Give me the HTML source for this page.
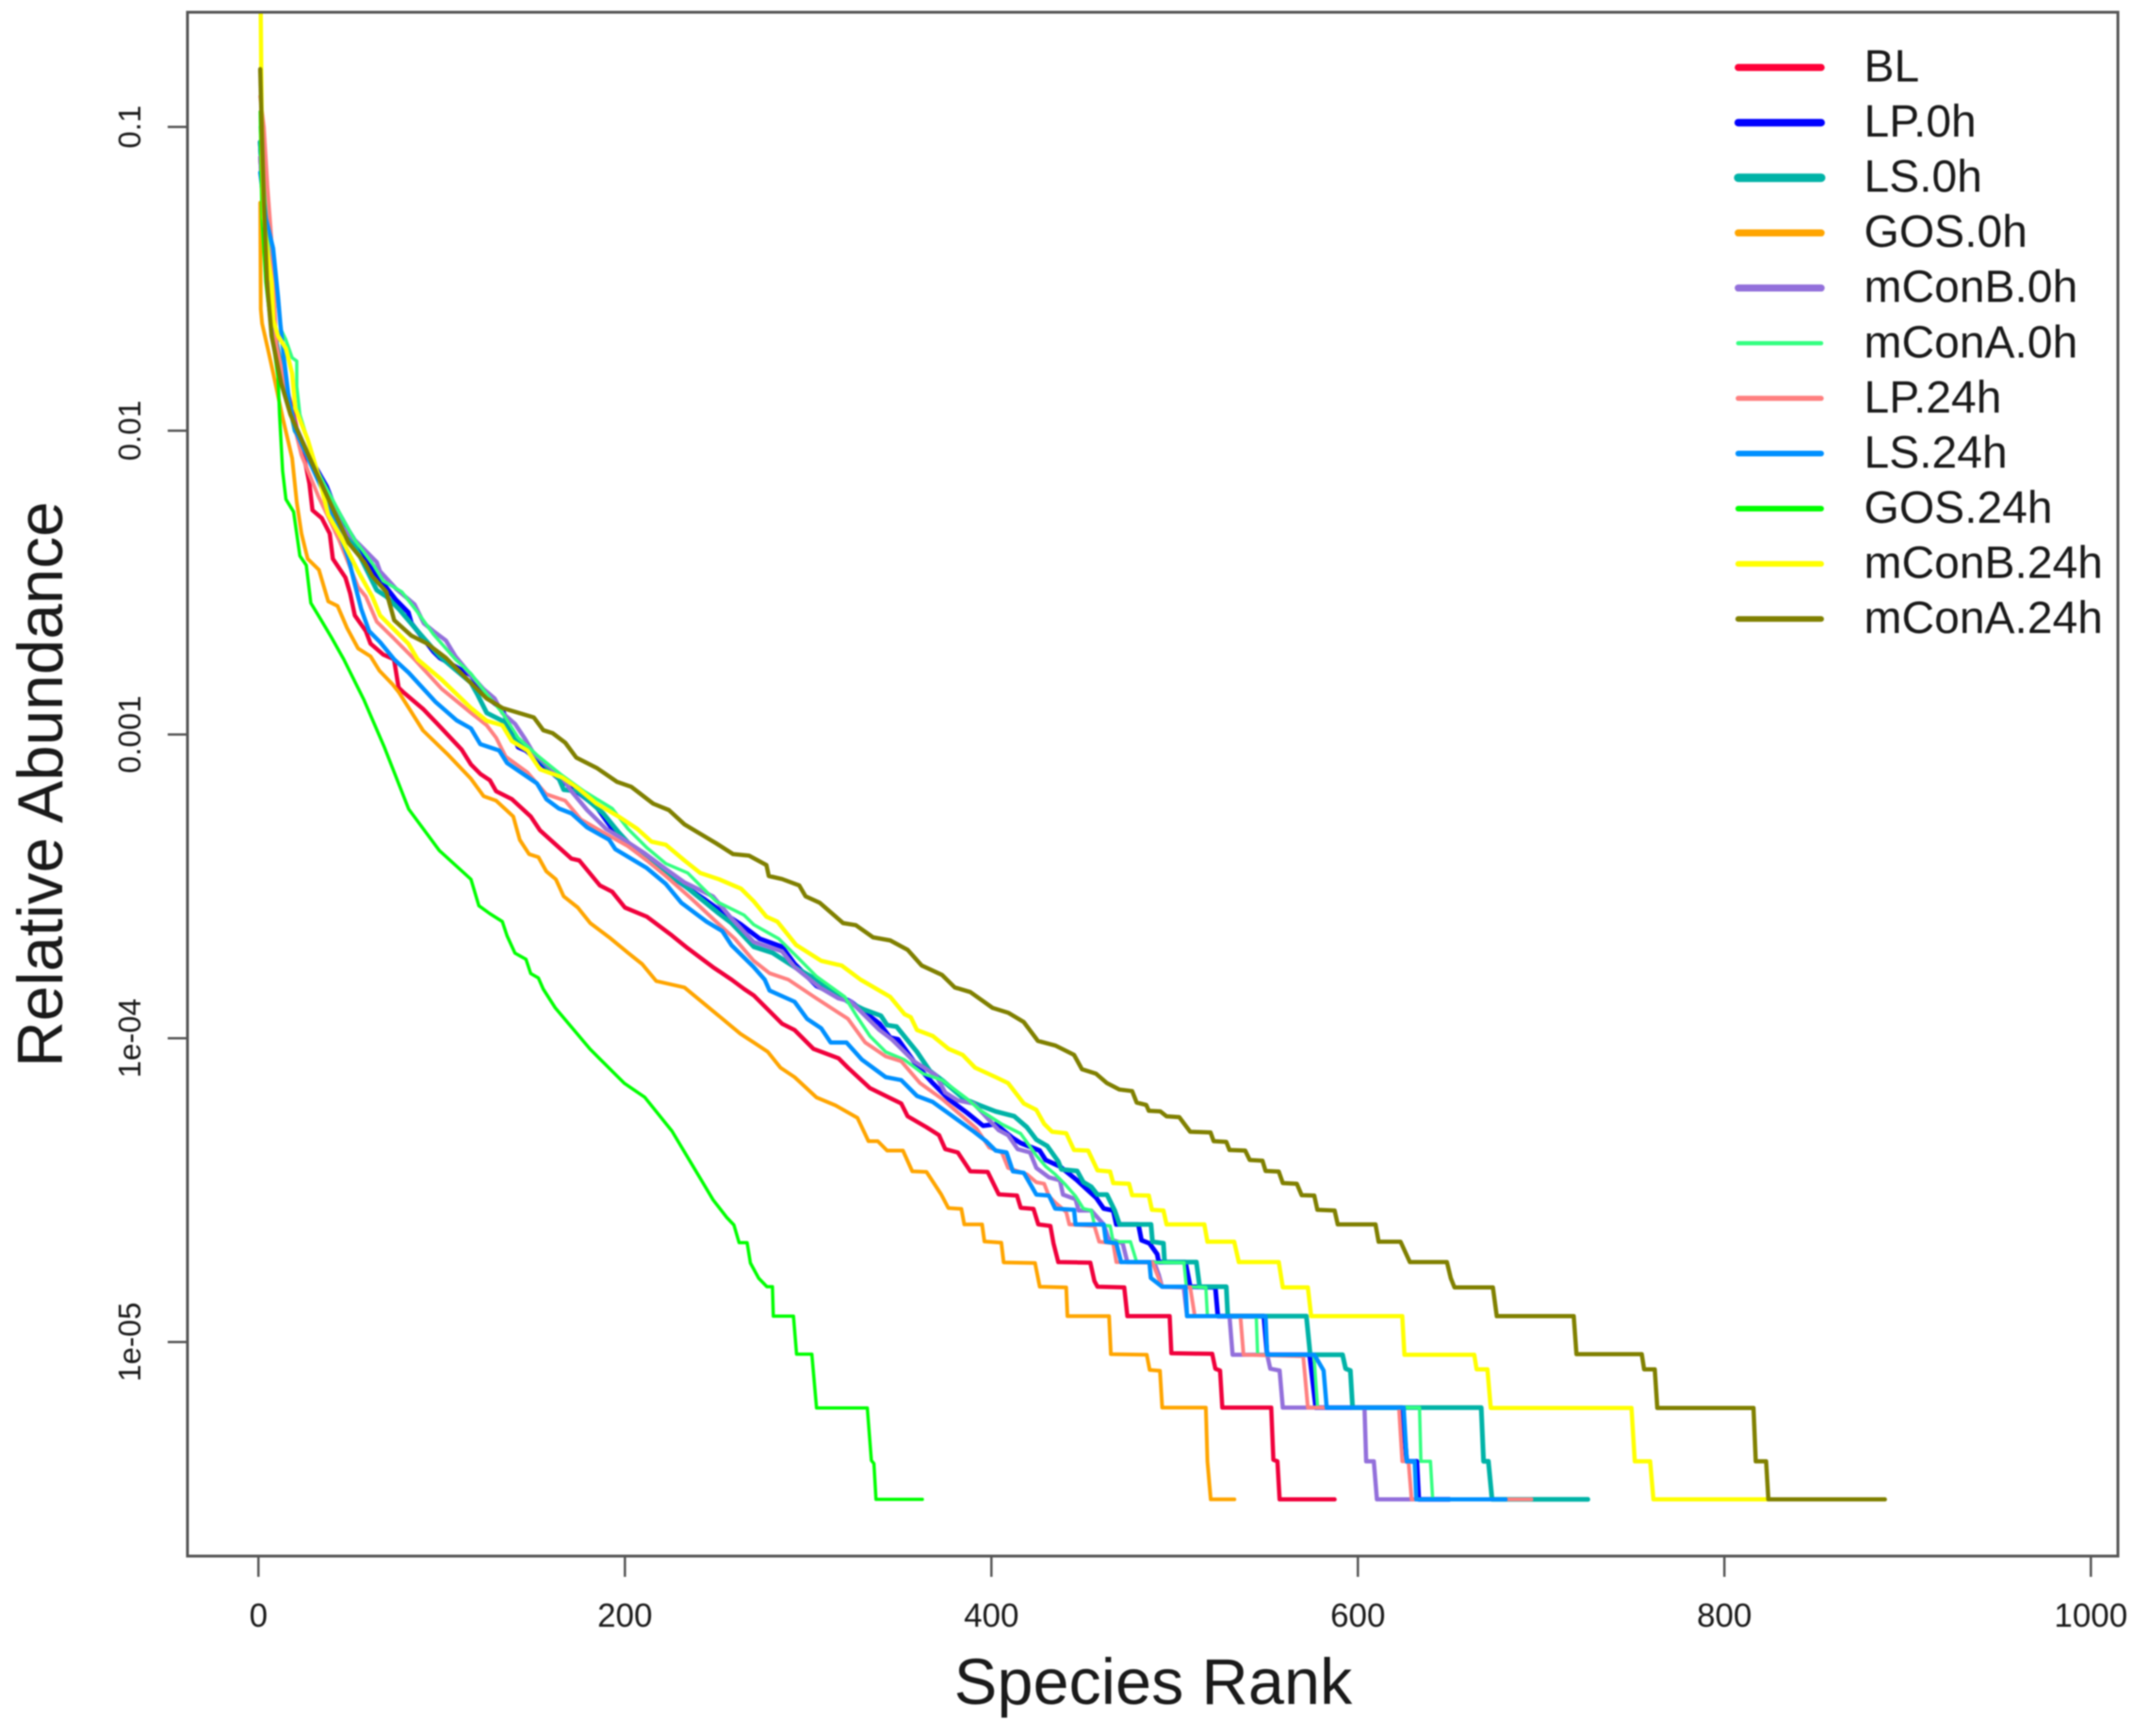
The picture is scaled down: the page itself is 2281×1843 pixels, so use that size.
<!DOCTYPE html>
<html lang="en">
<head>
<meta charset="utf-8">
<title>Species rank abundance curves</title>
<style>
html,body{margin:0;padding:0;background:#fff;width:2281px;height:1843px;overflow:hidden}
svg{display:block;position:absolute;left:0;top:0;filter:blur(0.7px)}
text{font-family:"Liberation Sans",sans-serif;fill:#1a1a1a}
</style>
</head>
<body>
<svg id="chart" xmlns="http://www.w3.org/2000/svg" width="2281" height="1843" viewBox="0 0 2281 1843">
  <defs><clipPath id="plot-clip"><rect x="199" y="13" width="2049" height="1639"/></clipPath></defs>
  <rect x="0" y="0" width="2281" height="1843" fill="#fff"/>
  <g id="curves" clip-path="url(#plot-clip)"></g>
  <rect x="199" y="13" width="2049" height="1639" fill="none" stroke="#555" stroke-width="3"/>
  <g id="x-axis"></g>
  <g id="y-axis"></g>
  <text x="1232" y="1809" font-size="68.5" text-anchor="middle" transform="translate(-8,0)">Species Rank</text>
  <text transform="translate(66,832.6) rotate(-90)" font-size="67.5" text-anchor="middle">Relative Abundance</text>
  <g font-size="48">
    <g><line x1="1845" x2="1933" y1="71.6" y2="71.6" stroke="#ff0038" stroke-width="7.5" stroke-linecap="round"/><text x="1978.5" y="86.5">BL</text></g>
    <g><line x1="1845" x2="1933" y1="130.2" y2="130.2" stroke="#0000ff" stroke-width="8" stroke-linecap="round"/><text x="1978.5" y="145.1">LP.0h</text></g>
    <g><line x1="1845" x2="1933" y1="188.7" y2="188.7" stroke="#00b3a7" stroke-width="9" stroke-linecap="round"/><text x="1978.5" y="203.6">LS.0h</text></g>
    <g><line x1="1845" x2="1933" y1="247.3" y2="247.3" stroke="#ffa500" stroke-width="7.5" stroke-linecap="round"/><text x="1978.5" y="262.2">GOS.0h</text></g>
    <g><line x1="1845" x2="1933" y1="305.8" y2="305.8" stroke="#9370db" stroke-width="7.5" stroke-linecap="round"/><text x="1978.5" y="320.7">mConB.0h</text></g>
    <g><line x1="1845" x2="1933" y1="364.4" y2="364.4" stroke="#33ff80" stroke-width="4.5" stroke-linecap="round"/><text x="1978.5" y="379.3">mConA.0h</text></g>
    <g><line x1="1845" x2="1933" y1="422.9" y2="422.9" stroke="#ff8080" stroke-width="5.5" stroke-linecap="round"/><text x="1978.5" y="437.8">LP.24h</text></g>
    <g><line x1="1845" x2="1933" y1="481.5" y2="481.5" stroke="#0090ff" stroke-width="6" stroke-linecap="round"/><text x="1978.5" y="496.4">LS.24h</text></g>
    <g><line x1="1845" x2="1933" y1="540" y2="540" stroke="#00ff00" stroke-width="6" stroke-linecap="round"/><text x="1978.5" y="554.9">GOS.24h</text></g>
    <g><line x1="1845" x2="1933" y1="598.6" y2="598.6" stroke="#ffff00" stroke-width="6" stroke-linecap="round"/><text x="1978.5" y="613.5">mConB.24h</text></g>
    <g><line x1="1845" x2="1933" y1="657.1" y2="657.1" stroke="#808000" stroke-width="6" stroke-linecap="round"/><text x="1978.5" y="672">mConA.24h</text></g>
  </g>
</svg>
<script>
// Tick values and labels
const xTickValues = [0, 200, 400, 600, 800, 1000];
const yTickLog10 = [-1, -2, -3, -4, -5];
const yTickLabels = ['0.1', '0.01', '0.001', '1e-04', '1e-05'];

// Each curve: [species rank, log10 relative abundance]
const curveBL = [[1,-1.1],[5,-1.45],[9,-1.709],[15,-1.85],[20,-1.97],[26.1,-2.122],[27.8,-2.174],[29.5,-2.262],[34.6,-2.288],[38.9,-2.339],[40.6,-2.422],[47.5,-2.484],[50.1,-2.536],[52.6,-2.608],[58.6,-2.66],[61.2,-2.701],[68.1,-2.737],[74,-2.753],[76.5,-2.846],[79.3,-2.862],[89.8,-2.916],[97.5,-2.964],[110.9,-3.05],[116,-3.099],[121.1,-3.13],[126.3,-3.151],[129.7,-3.187],[138.3,-3.213],[148.6,-3.27],[153.7,-3.316],[170.8,-3.409],[175.1,-3.415],[186.3,-3.497],[193.1,-3.518],[200,-3.57],[212,-3.6],[225.7,-3.662],[234.3,-3.704],[248,-3.766],[258.2,-3.807],[265.1,-3.838],[270.3,-3.859],[285.7,-3.952],[292.6,-3.973],[302.9,-4.035],[316.6,-4.066],[321.7,-4.097],[333.7,-4.164],[345.7,-4.2],[350.8,-4.215],[354.3,-4.257],[364.6,-4.293],[371.4,-4.319],[374.8,-4.365],[381.7,-4.376],[385.1,-4.407],[388.5,-4.438],[398,-4.44],[404,-4.514],[414,-4.518],[416,-4.558],[423,-4.562],[425.6,-4.613],[432.2,-4.618],[433.9,-4.675],[436.5,-4.737],[454,-4.739],[456.2,-4.799],[457.9,-4.818],[472.5,-4.82],[474.2,-4.915],[497.3,-4.915],[498.2,-5.037],[520.5,-5.039],[522.2,-5.088],[524.8,-5.094],[526,-5.216],[552.7,-5.216],[553.9,-5.388],[556.1,-5.393],[557.3,-5.518],[587.3,-5.518]];
const curveLP0h = [[1,-1.05],[5,-1.5],[10,-1.72],[20.1,-1.998],[22.6,-2.029],[37.2,-2.184],[40.6,-2.236],[49.2,-2.329],[62.9,-2.463],[75,-2.557],[81.8,-2.598],[83.5,-2.634],[95.5,-2.727],[98.9,-2.748],[116,-2.805],[124.6,-2.877],[133.1,-2.918],[141.7,-3.042],[146,-3.053],[164,-3.146],[172.6,-3.182],[184.6,-3.239],[193.1,-3.311],[203.4,-3.368],[218.8,-3.44],[236,-3.513],[243.7,-3.544],[253.1,-3.585],[263.4,-3.626],[273.7,-3.673],[285.7,-3.699],[292.6,-3.755],[304.6,-3.828],[323.4,-3.88],[338.9,-3.952],[344.8,-3.998],[349.1,-4.004],[359.4,-4.091],[368,-4.148],[376.6,-4.2],[386.8,-4.246],[395.4,-4.288],[402.3,-4.283],[411.7,-4.329],[416,-4.345],[426.3,-4.37],[429.6,-4.401],[437.4,-4.422],[446.8,-4.468],[457.1,-4.525],[461.3,-4.561],[466.5,-4.567],[468.2,-4.613],[480.2,-4.613],[481.9,-4.665],[486.2,-4.675],[490.5,-4.711],[491.3,-4.737],[505.9,-4.737],[508.5,-4.818],[522.2,-4.82],[523.6,-4.915],[548.7,-4.915],[550.5,-5.042],[573.6,-5.042],[577,-5.216],[624.2,-5.216],[626.7,-5.393],[632.2,-5.393],[633.2,-5.518],[650,-5.518]];
const curveLS0h = [[1,-1.05],[5,-1.5],[10,-1.72],[20,-2],[32,-2.14],[45.8,-2.298],[56.1,-2.422],[64.6,-2.525],[69.8,-2.546],[76.6,-2.587],[86.9,-2.66],[98.9,-2.743],[116,-2.83],[119.4,-2.867],[124.6,-2.929],[133.1,-2.955],[138.3,-3.006],[150,-3.06],[164,-3.146],[166.6,-3.182],[174.3,-3.187],[188,-3.259],[196.5,-3.322],[205.1,-3.378],[215.4,-3.425],[232.5,-3.497],[251.4,-3.59],[258.2,-3.621],[270.3,-3.699],[280.6,-3.719],[292.6,-3.766],[304.6,-3.807],[321.7,-3.88],[330.3,-3.905],[339.7,-3.926],[343.1,-3.957],[348.3,-3.962],[359.4,-4.045],[366.3,-4.107],[373.1,-4.138],[385.1,-4.2],[393.7,-4.221],[402.3,-4.241],[412.5,-4.257],[419.4,-4.293],[424.5,-4.334],[430.5,-4.355],[436.5,-4.406],[438.2,-4.432],[446.8,-4.437],[450.2,-4.474],[454.5,-4.489],[457.9,-4.515],[463.1,-4.515],[467.3,-4.567],[469.9,-4.613],[487.1,-4.613],[487.9,-4.67],[493.9,-4.675],[494.5,-4.737],[511.9,-4.737],[513.6,-4.818],[528.2,-4.818],[529,-4.915],[571.9,-4.915],[574,-5.042],[591.6,-5.042],[593.3,-5.088],[595.9,-5.094],[597.1,-5.216],[667.3,-5.216],[668.6,-5.393],[671.2,-5.393],[673.2,-5.518],[725.5,-5.518]];
const curveGOS0h = [[1,-1.25],[1.3,-1.6],[2,-1.647],[5.5,-1.74],[8.1,-1.812],[13.2,-1.957],[18.4,-2.091],[20.9,-2.236],[23.5,-2.339],[26.9,-2.422],[33,-2.458],[38.1,-2.562],[43.2,-2.577],[48.4,-2.65],[54.4,-2.717],[61.2,-2.743],[66,-2.79],[73.3,-2.836],[76.7,-2.862],[89.8,-2.987],[103,-3.064],[116,-3.146],[122.9,-3.203],[129.7,-3.218],[139.1,-3.27],[142.6,-3.347],[147.7,-3.394],[152.8,-3.404],[157.1,-3.451],[162.3,-3.477],[166.6,-3.533],[174.3,-3.57],[181.1,-3.621],[191.4,-3.668],[201.7,-3.719],[209.4,-3.756],[217.1,-3.812],[232.5,-3.833],[250,-3.92],[263,-3.985],[270.3,-4.014],[278,-4.045],[284.9,-4.097],[292.6,-4.128],[304.6,-4.195],[314.9,-4.221],[326.9,-4.262],[332.9,-4.339],[338,-4.339],[343.1,-4.37],[351.7,-4.37],[356.8,-4.438],[364.6,-4.44],[372.6,-4.514],[376.5,-4.559],[383.6,-4.562],[385.2,-4.613],[394.9,-4.613],[396.2,-4.669],[405.4,-4.673],[406.7,-4.738],[423.8,-4.74],[426.4,-4.818],[440.8,-4.82],[441.5,-4.915],[464.2,-4.915],[465.2,-5.04],[484.8,-5.042],[486.4,-5.092],[492,-5.095],[493.2,-5.216],[517,-5.216],[517.9,-5.393],[519.7,-5.518],[532.6,-5.518]];
const curveMConB0h = [[1,-1.1],[5,-1.5],[10,-1.75],[20,-1.98],[32.1,-2.143],[45.8,-2.319],[56.1,-2.381],[64.6,-2.433],[66.4,-2.463],[75,-2.52],[85.2,-2.572],[90.3,-2.634],[95.5,-2.66],[102.3,-2.691],[107.5,-2.743],[116,-2.805],[122.9,-2.851],[128.9,-2.882],[133.1,-2.929],[140,-2.965],[145.1,-3.011],[150.3,-3.063],[165.7,-3.141],[170.8,-3.187],[179.4,-3.249],[189.7,-3.311],[198.3,-3.342],[210.3,-3.389],[220.5,-3.435],[232.5,-3.487],[248,-3.533],[258.2,-3.606],[270.3,-3.683],[285.7,-3.714],[292.6,-3.766],[306.3,-3.833],[316.6,-3.869],[323.4,-3.88],[338.9,-3.973],[345.7,-4.004],[357.7,-4.076],[369.7,-4.122],[374.8,-4.179],[381.7,-4.205],[390.3,-4.215],[404,-4.303],[409.1,-4.319],[414.3,-4.365],[421.1,-4.376],[424.5,-4.427],[431.4,-4.458],[437.4,-4.468],[439.1,-4.515],[445.9,-4.53],[447.6,-4.567],[454.5,-4.567],[461.3,-4.613],[463.9,-4.66],[471.6,-4.675],[474.2,-4.737],[488.8,-4.737],[491.3,-4.778],[493.1,-4.818],[505,-4.82],[506.8,-4.915],[529.9,-4.915],[531.6,-5.042],[550.5,-5.042],[552.2,-5.088],[557.3,-5.094],[559,-5.216],[603.6,-5.216],[604.5,-5.393],[608.7,-5.393],[610.4,-5.518],[640,-5.518]];
const curveMConA0h = [[1,-1],[5,-1.35],[10,-1.55],[12.4,-1.668],[14.9,-1.7],[18.4,-1.76],[20.9,-1.771],[20.9,-1.854],[22.6,-1.947],[32,-2.13],[45.8,-2.288],[52.6,-2.36],[62.9,-2.443],[68.1,-2.495],[78.3,-2.531],[86.9,-2.598],[95.5,-2.67],[107.5,-2.753],[116,-2.8],[124.6,-2.867],[133.1,-2.929],[141.7,-3.011],[152,-3.068],[165.7,-3.135],[177.7,-3.187],[193.1,-3.244],[201.7,-3.311],[212,-3.373],[222.3,-3.425],[234.3,-3.456],[249.7,-3.549],[265.1,-3.595],[270.3,-3.626],[284,-3.673],[292.6,-3.724],[304.6,-3.797],[320,-3.864],[326.9,-3.931],[333.7,-3.993],[342.3,-4.045],[352.6,-4.071],[362.8,-4.117],[373.1,-4.138],[386.8,-4.2],[393.7,-4.236],[405.7,-4.283],[416,-4.314],[424.5,-4.386],[429.6,-4.422],[434.8,-4.448],[439.9,-4.479],[445.9,-4.52],[450.2,-4.561],[454.5,-4.567],[456.2,-4.613],[464.8,-4.618],[466.5,-4.67],[475.9,-4.67],[479.3,-4.737],[505.1,-4.739],[506.4,-4.818],[517,-4.82],[517.9,-4.915],[544.5,-4.915],[545.3,-5.042],[576,-5.042],[578,-5.216],[633.6,-5.216],[634.4,-5.393],[639.6,-5.393],[640.8,-5.518],[660,-5.518]];
const curveLP24h = [[1,-0.9],[3,-1],[5,-1.2],[7,-1.36],[9.8,-1.72],[20.1,-1.998],[23.5,-2.081],[33,-2.22],[44,-2.36],[54.4,-2.515],[58.6,-2.546],[64.6,-2.629],[73.2,-2.68],[80.1,-2.722],[85.2,-2.753],[100,-2.85],[116,-2.929],[124.6,-2.97],[129.7,-3.011],[134.9,-3.073],[146.8,-3.125],[157.1,-3.197],[167.4,-3.218],[176,-3.28],[188,-3.322],[201.7,-3.368],[212,-3.415],[222.3,-3.466],[236,-3.539],[249.7,-3.616],[260,-3.673],[270.3,-3.745],[278.9,-3.786],[289.2,-3.807],[304.6,-3.869],[321.7,-3.936],[331.1,-4.014],[342.3,-4.06],[350.8,-4.076],[361.1,-4.148],[373.1,-4.2],[385.1,-4.262],[392,-4.298],[398.8,-4.36],[405.7,-4.376],[409.1,-4.427],[419.4,-4.448],[424.5,-4.474],[428.8,-4.479],[431.4,-4.52],[434.8,-4.541],[440.8,-4.572],[442.5,-4.613],[456.2,-4.618],[458.8,-4.67],[466.5,-4.675],[468.2,-4.737],[487.9,-4.739],[490.5,-4.778],[493.1,-4.818],[508.5,-4.82],[511,-4.915],[535.9,-4.915],[537.6,-5.042],[570.2,-5.047],[572.7,-5.216],[622.4,-5.216],[624.2,-5.393],[627.6,-5.393],[629.3,-5.518],[694.7,-5.518]];
const curveLS24h = [[1,-1.15],[4,-1.3],[8,-1.4],[10.7,-1.56],[12,-1.65],[14.1,-1.771],[16.6,-1.895],[20.1,-1.998],[36.4,-2.215],[42.4,-2.308],[49.2,-2.422],[52.6,-2.505],[56.1,-2.587],[60.4,-2.66],[66.4,-2.696],[74.1,-2.753],[82,-2.797],[96.5,-2.892],[108.3,-2.954],[116,-2.98],[121.1,-3.032],[131.4,-3.053],[135.7,-3.094],[152,-3.161],[157.1,-3.213],[164,-3.244],[170.8,-3.26],[179.4,-3.306],[191.4,-3.347],[194.8,-3.378],[212,-3.44],[222.3,-3.492],[230.8,-3.554],[244.5,-3.616],[253.1,-3.647],[258.2,-3.694],[270.3,-3.766],[276.3,-3.807],[278.9,-3.843],[292.6,-3.88],[299.4,-3.936],[307.1,-3.967],[312.3,-4.014],[320.9,-4.014],[329.4,-4.071],[342.3,-4.128],[350.8,-4.138],[359.4,-4.19],[368,-4.21],[380,-4.262],[389.4,-4.303],[397.1,-4.339],[402.3,-4.37],[408.3,-4.376],[411.7,-4.438],[417.7,-4.443],[424.5,-4.515],[431.4,-4.518],[434.8,-4.561],[445.1,-4.565],[445.9,-4.613],[461.3,-4.613],[462.5,-4.67],[468.2,-4.675],[470.8,-4.737],[486.2,-4.737],[487,-4.789],[493.1,-4.818],[505.9,-4.818],[506.8,-4.915],[549.6,-4.915],[550.5,-5.042],[576.2,-5.042],[581.3,-5.094],[583,-5.216],[625,-5.216],[626.7,-5.393],[631,-5.393],[631.9,-5.518],[680.6,-5.518]];
const curveGOS24h = [[1,-0.95],[1.5,-1.15],[2,-1.305],[4,-1.51],[7,-1.667],[10.7,-1.823],[11.5,-1.947],[13.2,-2.133],[15,-2.226],[19.2,-2.267],[22.6,-2.412],[26.1,-2.443],[28.6,-2.567],[33.8,-2.619],[39.8,-2.68],[46.6,-2.753],[57.5,-2.885],[68.8,-3.043],[82,-3.246],[98.7,-3.382],[116,-3.477],[120.3,-3.564],[126.3,-3.59],[133.1,-3.616],[135.7,-3.663],[140,-3.72],[146,-3.74],[148.6,-3.787],[152.8,-3.802],[155.4,-3.838],[162,-3.9],[181,-4.036],[199.6,-4.148],[210.8,-4.194],[225.7,-4.306],[236.9,-4.419],[248.1,-4.532],[255.6,-4.59],[259.5,-4.615],[262.3,-4.673],[266.7,-4.673],[268.5,-4.74],[273,-4.79],[277.5,-4.818],[280.5,-4.818],[281,-4.915],[292,-4.915],[293.7,-5.04],[302,-5.04],[304.6,-5.217],[332.3,-5.217],[334.5,-5.39],[335.9,-5.4],[337,-5.518],[362.3,-5.518]];
const curveMConB24h = [[1,-0.45],[2,-1.1],[3,-1.3],[5,-1.42],[7.2,-1.513],[8.1,-1.637],[10.7,-1.688],[15,-1.73],[18.4,-1.812],[20.1,-1.926],[26.9,-2.029],[33,-2.153],[38.1,-2.277],[44,-2.339],[48.4,-2.391],[54.4,-2.463],[62.1,-2.546],[66.4,-2.608],[74.9,-2.66],[81.8,-2.701],[86.9,-2.753],[100,-2.82],[116,-2.913],[124.6,-2.955],[133.1,-2.97],[138.3,-3.022],[146.8,-3.053],[153.7,-3.115],[165.7,-3.141],[174.3,-3.177],[184.6,-3.228],[196.5,-3.27],[206.8,-3.311],[214.5,-3.353],[222.3,-3.363],[232.5,-3.415],[241.1,-3.456],[251.4,-3.477],[263.4,-3.508],[270.3,-3.549],[277.2,-3.6],[283.2,-3.616],[293.4,-3.693],[307.1,-3.745],[318.3,-3.761],[328.6,-3.807],[344.8,-3.864],[352.6,-3.921],[356,-3.931],[359.4,-3.973],[368,-3.993],[376.6,-4.035],[384.3,-4.055],[391.1,-4.097],[402.3,-4.128],[409.1,-4.148],[417.7,-4.215],[424.5,-4.236],[428.8,-4.282],[433.1,-4.308],[440.8,-4.313],[445.1,-4.368],[452.8,-4.37],[457.9,-4.435],[464.8,-4.439],[466.5,-4.477],[475.1,-4.479],[476.8,-4.517],[485.9,-4.518],[487.6,-4.565],[493.9,-4.567],[495.6,-4.613],[516.2,-4.613],[517.9,-4.67],[532.5,-4.67],[535,-4.737],[556.8,-4.737],[559,-4.82],[572.7,-4.82],[574.5,-4.915],[624.2,-4.915],[625.4,-5.042],[663.5,-5.042],[664.8,-5.09],[670.7,-5.09],[672.5,-5.217],[749.3,-5.217],[751.1,-5.393],[759.5,-5.393],[761.3,-5.518],[823.5,-5.518]];
const curveMConA24h = [[1,-0.81],[2,-1.05],[3,-1.25],[4.7,-1.513],[7.2,-1.688],[12.4,-1.843],[17.5,-1.947],[23.5,-2.029],[30.4,-2.122],[40.6,-2.257],[49.2,-2.37],[57.8,-2.433],[62.1,-2.479],[69.8,-2.531],[74.1,-2.624],[83.5,-2.675],[92.1,-2.701],[102.3,-2.748],[116,-2.831],[124.6,-2.882],[133.1,-2.913],[150.3,-2.944],[155.4,-2.986],[160.6,-2.996],[167.4,-3.027],[173.4,-3.076],[184.6,-3.11],[195.7,-3.156],[203.4,-3.172],[215.4,-3.228],[224,-3.249],[232.5,-3.296],[249.7,-3.358],[259.1,-3.394],[267.7,-3.399],[277.2,-3.43],[278.5,-3.466],[285.7,-3.476],[295.1,-3.497],[298.6,-3.533],[306.3,-3.554],[319.1,-3.621],[326,-3.628],[335.4,-3.668],[344.8,-3.678],[354.3,-3.709],[362,-3.761],[373.1,-3.792],[380,-3.833],[388.5,-3.848],[400.6,-3.9],[409.1,-3.916],[417.7,-3.947],[425.4,-4.009],[434.8,-4.024],[445.1,-4.055],[449.4,-4.102],[457.1,-4.117],[463.1,-4.148],[469.9,-4.169],[476.8,-4.174],[479.3,-4.212],[484.5,-4.22],[485.9,-4.239],[492.2,-4.241],[495.6,-4.257],[502.5,-4.26],[508.5,-4.308],[519.6,-4.31],[521.3,-4.339],[528.2,-4.341],[529.9,-4.368],[538.5,-4.37],[541,-4.401],[547.9,-4.403],[549.6,-4.437],[556.8,-4.439],[559,-4.477],[566.7,-4.479],[569.3,-4.517],[576.2,-4.518],[577.9,-4.565],[587.3,-4.567],[589,-4.613],[609.6,-4.613],[611.3,-4.67],[623.3,-4.67],[628.4,-4.737],[648.6,-4.737],[650.7,-4.79],[652.7,-4.82],[673.7,-4.82],[675.8,-4.915],[717.8,-4.915],[719.3,-5.04],[754.9,-5.04],[756.2,-5.09],[762,-5.09],[763.4,-5.217],[815.9,-5.217],[817.1,-5.393],[822.8,-5.393],[824,-5.518],[887.6,-5.518]];

// Axis functions: rank is linear, abundance is a log scale (322.5 px per decade)
function xScale(rank) { return 274.3 + rank * 1.945; }
function yScale(logValue) { return 134.7 + (-1 - logValue) * 322.5; }

const svgNS = 'http://www.w3.org/2000/svg';
const curvesGroup = document.getElementById('curves');
const xAxisGroup = document.getElementById('x-axis');
const yAxisGroup = document.getElementById('y-axis');

function drawCurve(points, name, color, width) {
  const path = document.createElementNS(svgNS, 'polyline');
  
  
  path.setAttribute('points', points.map(function (p) { return xScale(p[0]).toFixed(1) + ',' + yScale(p[1]).toFixed(1); }).join(' '));
  path.setAttribute('fill', 'none');
  path.setAttribute('stroke', color);
  path.setAttribute('stroke-width', width);
  path.setAttribute('stroke-linejoin', 'round');
  path.setAttribute('stroke-linecap', 'round');
  curvesGroup.appendChild(path);
}

drawCurve(curveBL, 'curve-bl', '#f0003c', 4.5);
drawCurve(curveLP0h, 'curve-lp-0h', '#0000ff', 5);
drawCurve(curveLS0h, 'curve-ls-0h', '#00b3a7', 5);
drawCurve(curveGOS0h, 'curve-gos-0h', '#ffa500', 4);
drawCurve(curveMConB0h, 'curve-mconb-0h', '#9370db', 4.5);
drawCurve(curveMConA0h, 'curve-mcona-0h', '#33ff80', 3.5);
drawCurve(curveLP24h, 'curve-lp-24h', '#ff8080', 4);
drawCurve(curveLS24h, 'curve-ls-24h', '#0090ff', 4.5);
drawCurve(curveGOS24h, 'curve-gos-24h', '#00ff00', 3.5);
drawCurve(curveMConB24h, 'curve-mconb-24h', '#ffff00', 4.5);
drawCurve(curveMConA24h, 'curve-mcona-24h', '#808000', 4.5);

xTickValues.forEach(function (value) {
  const tick = document.createElementNS(svgNS, 'line');
  
  
  tick.setAttribute('x1', xScale(value));
  tick.setAttribute('x2', xScale(value));
  tick.setAttribute('y1', 1652);
  tick.setAttribute('y2', 1674);
  tick.setAttribute('stroke', '#555');
  tick.setAttribute('stroke-width', 2.5);
  xAxisGroup.appendChild(tick);
  const label = document.createElementNS(svgNS, 'text');
  
  
  label.setAttribute('x', xScale(value));
  label.setAttribute('y', 1727);
  label.setAttribute('font-size', 35);
  label.setAttribute('text-anchor', 'middle');
  label.textContent = String(value);
  xAxisGroup.appendChild(label);
});

yTickLog10.forEach(function (value, i) {
  const tick = document.createElementNS(svgNS, 'line');
  
  
  tick.setAttribute('x1', 178);
  tick.setAttribute('x2', 199);
  tick.setAttribute('y1', yScale(value));
  tick.setAttribute('y2', yScale(value));
  tick.setAttribute('stroke', '#555');
  tick.setAttribute('stroke-width', 2.5);
  yAxisGroup.appendChild(tick);
  const label = document.createElementNS(svgNS, 'text');
  
  
  label.setAttribute('transform', 'translate(149,' + yScale(value) + ') rotate(-90)');
  label.setAttribute('font-size', 33);
  label.setAttribute('text-anchor', 'middle');
  label.textContent = yTickLabels[i];
  yAxisGroup.appendChild(label);
});
</script>
</body>
</html>
